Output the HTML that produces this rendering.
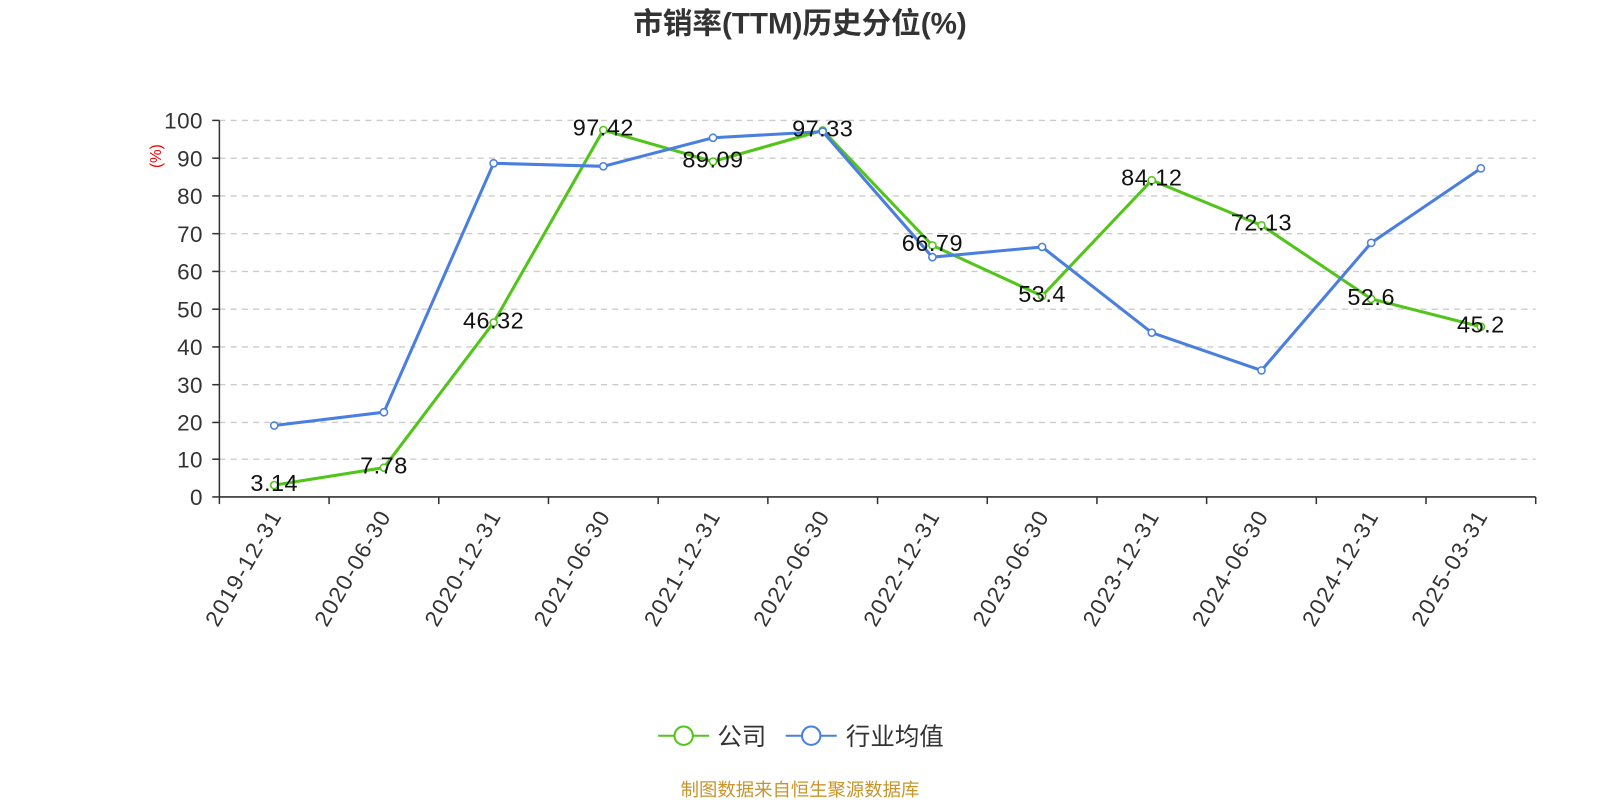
<!DOCTYPE html>
<html><head><meta charset="utf-8"><style>
body{margin:0;background:#fff;}
svg{display:block;}
svg text{font-family:"Liberation Sans","Noto Sans CJK SC",sans-serif;}
</style></head><body>
<svg width="1600" height="800" viewBox="0 0 1568 784" xmlns="http://www.w3.org/2000/svg">
<rect width="1568" height="784" fill="#fff"/>
<text x="784" y="33" text-anchor="middle" font-size="29" font-weight="bold" fill="#333">市销率(TTM)历史分位(%)</text>
<g stroke="#ccc" stroke-dasharray="6,5" stroke-width="1.3">
<line x1="215" x2="1505" y1="118" y2="118"/><line x1="215" x2="1505" y1="155" y2="155"/>
<line x1="215" x2="1505" y1="192" y2="192"/><line x1="215" x2="1505" y1="229" y2="229"/>
<line x1="215" x2="1505" y1="266" y2="266"/><line x1="215" x2="1505" y1="303" y2="303"/>
<line x1="215" x2="1505" y1="340" y2="340"/><line x1="215" x2="1505" y1="377" y2="377"/>
<line x1="215" x2="1505" y1="414" y2="414"/><line x1="215" x2="1505" y1="450" y2="450"/>
</g>
<g stroke="#333" stroke-width="1.5">
<line x1="215" x2="215" y1="118" y2="487"/>
<line x1="215" x2="1505" y1="487" y2="487"/>
<line x1="208" x2="215" y1="118" y2="118"/><line x1="208" x2="215" y1="155" y2="155"/><line x1="208" x2="215" y1="192" y2="192"/><line x1="208" x2="215" y1="229" y2="229"/><line x1="208" x2="215" y1="266" y2="266"/><line x1="208" x2="215" y1="303" y2="303"/><line x1="208" x2="215" y1="340" y2="340"/><line x1="208" x2="215" y1="377" y2="377"/><line x1="208" x2="215" y1="414" y2="414"/><line x1="208" x2="215" y1="450" y2="450"/><line x1="208" x2="215" y1="487" y2="487"/>
<line x1="215" x2="215" y1="487" y2="494"/><line x1="322.5" x2="322.5" y1="487" y2="494"/><line x1="430" x2="430" y1="487" y2="494"/><line x1="537.5" x2="537.5" y1="487" y2="494"/><line x1="645" x2="645" y1="487" y2="494"/><line x1="752.5" x2="752.5" y1="487" y2="494"/><line x1="860" x2="860" y1="487" y2="494"/><line x1="967.5" x2="967.5" y1="487" y2="494"/><line x1="1075" x2="1075" y1="487" y2="494"/><line x1="1182.5" x2="1182.5" y1="487" y2="494"/><line x1="1290" x2="1290" y1="487" y2="494"/><line x1="1397.5" x2="1397.5" y1="487" y2="494"/><line x1="1505" x2="1505" y1="487" y2="494"/>
</g>
<g font-size="22" fill="#333" text-anchor="end" letter-spacing="0.5">
<text x="199" y="126">100</text><text x="199" y="163">90</text><text x="199" y="200">80</text><text x="199" y="237">70</text><text x="199" y="274">60</text><text x="199" y="311">50</text><text x="199" y="348">40</text><text x="199" y="385">30</text><text x="199" y="422">20</text><text x="199" y="458">10</text><text x="199" y="495">0</text>
</g>
<text x="158" y="153" font-size="15" fill="#e00" text-anchor="middle" transform="rotate(-90 158 153)">(%)</text>
<g font-size="22" fill="#333" text-anchor="end" letter-spacing="1.5">
<text transform="translate(277,505) rotate(-60)">2019-12-31</text>
<text transform="translate(384,505) rotate(-60)">2020-06-30</text>
<text transform="translate(492,505) rotate(-60)">2020-12-31</text>
<text transform="translate(599,505) rotate(-60)">2021-06-30</text>
<text transform="translate(707,505) rotate(-60)">2021-12-31</text>
<text transform="translate(814,505) rotate(-60)">2022-06-30</text>
<text transform="translate(922,505) rotate(-60)">2022-12-31</text>
<text transform="translate(1029,505) rotate(-60)">2023-06-30</text>
<text transform="translate(1137,505) rotate(-60)">2023-12-31</text>
<text transform="translate(1244,505) rotate(-60)">2024-06-30</text>
<text transform="translate(1352,505) rotate(-60)">2024-12-31</text>
<text transform="translate(1459,505) rotate(-60)">2025-03-31</text>
</g>
<polyline fill="none" stroke="#52c41a" stroke-width="3" points="268.75,475.4 376.25,458.3 483.75,316.1 591.25,127.5 698.75,158.3 806.25,127.8 913.75,240.5 1021.25,290 1128.75,176.6 1236.25,220.8 1343.75,292.9 1451.25,320.2"/>
<polyline fill="none" stroke="#4a7fe0" stroke-width="3" points="268.75,417 376.25,404 483.75,160 591.25,163 698.75,135 806.25,129 913.75,252 1021.25,242 1128.75,326 1236.25,363 1343.75,238 1451.25,165"/>
<g fill="#fff" stroke="#52c41a" stroke-width="1.5">
<circle cx="268.75" cy="475.4" r="3.5"/><circle cx="376.25" cy="458.3" r="3.5"/><circle cx="483.75" cy="316.1" r="3.5"/><circle cx="591.25" cy="127.5" r="3.5"/><circle cx="698.75" cy="158.3" r="3.5"/><circle cx="806.25" cy="127.8" r="3.5"/><circle cx="913.75" cy="240.5" r="3.5"/><circle cx="1021.25" cy="290" r="3.5"/><circle cx="1128.75" cy="176.6" r="3.5"/><circle cx="1236.25" cy="220.8" r="3.5"/><circle cx="1343.75" cy="292.9" r="3.5"/><circle cx="1451.25" cy="320.2" r="3.5"/>
</g>
<g fill="#fff" stroke="#4a7fe0" stroke-width="1.5">
<circle cx="268.75" cy="417" r="3.5"/><circle cx="376.25" cy="404" r="3.5"/><circle cx="483.75" cy="160" r="3.5"/><circle cx="591.25" cy="163" r="3.5"/><circle cx="698.75" cy="135" r="3.5"/><circle cx="806.25" cy="129" r="3.5"/><circle cx="913.75" cy="252" r="3.5"/><circle cx="1021.25" cy="242" r="3.5"/><circle cx="1128.75" cy="326" r="3.5"/><circle cx="1236.25" cy="363" r="3.5"/><circle cx="1343.75" cy="238" r="3.5"/><circle cx="1451.25" cy="165" r="3.5"/>
</g>
<g font-size="23" fill="#111" text-anchor="middle" letter-spacing="0.5">
<text x="268.75" y="481">3.14</text><text x="376.25" y="464">7.78</text><text x="483.75" y="322">46.32</text><text x="591.25" y="133">97.42</text><text x="698.75" y="164">89.09</text><text x="806.25" y="134">97.33</text><text x="913.75" y="246">66.79</text><text x="1021.25" y="296">53.4</text><text x="1128.75" y="182">84.12</text><text x="1236.25" y="226">72.13</text><text x="1343.75" y="299">52.6</text><text x="1451.25" y="326">45.2</text>
</g>
<line x1="645" x2="695" y1="721" y2="721" stroke="#52c41a" stroke-width="2"/>
<circle cx="670" cy="721" r="9" fill="#fff" stroke="#52c41a" stroke-width="2"/>
<text x="703" y="730" font-size="24" fill="#333">公司</text>
<line x1="770" x2="820" y1="721" y2="721" stroke="#4a7fe0" stroke-width="2"/>
<circle cx="795" cy="721" r="9" fill="#fff" stroke="#4a7fe0" stroke-width="2"/>
<text x="829" y="730" font-size="24" fill="#333">行业均值</text>
<text x="784" y="780" font-size="18" fill="#c8952a" text-anchor="middle">制图数据来自恒生聚源数据库</text>
</svg>
</body></html>
